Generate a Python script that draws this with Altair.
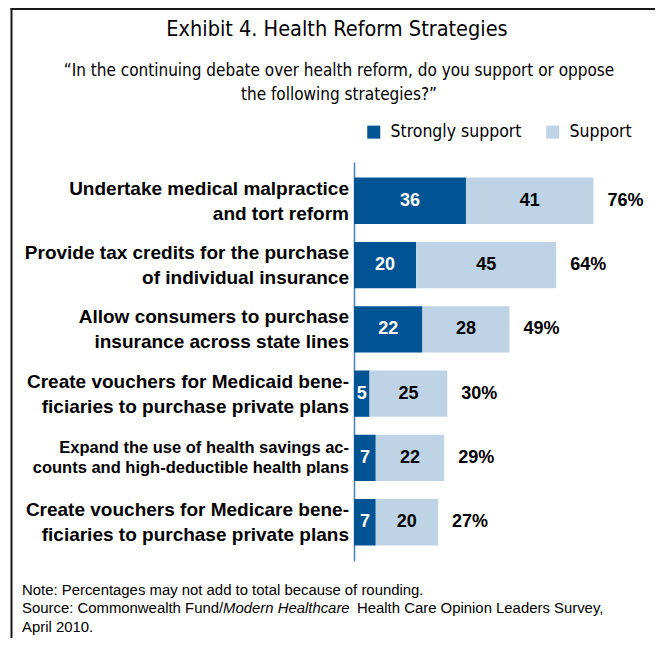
import altair as alt
import pandas as pd

# ---------------- data ----------------
strategies = [
    "Undertake medical malpractice\nand tort reform",
    "Provide tax credits for the purchase\nof individual insurance",
    "Allow consumers to purchase\ninsurance across state lines",
    "Create vouchers for Medicaid bene-\nficiaries to purchase private plans",
    "Expand the use of health savings ac-\ncounts and high-deductible health plans",
    "Create vouchers for Medicare bene-\nficiaries to purchase private plans",
]
strongly = [36, 20, 22, 5, 7, 7]
support = [41, 45, 28, 25, 22, 20]
totals = [76, 64, 49, 30, 29, 27]
series = ["Strongly support", "Support"]
colors = ["#005493", "#BED3E5"]

title_text = "Exhibit 4. Health Reform Strategies"
subtitle_text = "\u201cIn the continuing debate over health reform, do you support or oppose\nthe following strategies?\u201d"
note_line1 = "Note: Percentages may not add to total because of rounding."
source_a = "Source: Commonwealth Fund/"
source_b = "Modern Healthcare"
source_c = "Health Care Opinion Leaders Survey,"
note_line3 = "April 2010."

NARROW = "DejaVu Sans Condensed, Liberation Sans, sans-serif"
SANS = "Liberation Sans, Arial, sans-serif"

rows = []
for i, s in enumerate(strategies):
    rows.append({"strategy": s, "series": series[0], "value": strongly[i], "order": 0})
    rows.append({"strategy": s, "series": series[1], "value": support[i], "order": 1})
long = pd.DataFrame(rows)
wide = pd.DataFrame({"strategy": strategies, "strongly": strongly,
                     "support": support, "total": totals})
wide["end"] = wide["strongly"] + wide["support"]
wide["label"] = wide["total"].astype(str) + "%"
one = pd.DataFrame({"k": [0]})

W, H = 290, 399
x_scale = alt.Scale(domain=[0, 93.25], nice=False, zero=True)
y_enc = alt.Y("strategy:N", sort=strategies,
              scale=alt.Scale(paddingInner=0.28, paddingOuter=0.2425),
              axis=alt.Axis(labels=False, ticks=False, title=None, grid=False,
                            domainColor="#4A7EBB", domainWidth=1.5))

bars = alt.Chart(long).mark_bar().encode(
    y=y_enc,
    x=alt.X("value:Q", stack="zero", scale=x_scale, axis=None),
    color=alt.Color("series:N", scale=alt.Scale(domain=series, range=colors),
                    legend=alt.Legend(title=None, orient="none", legendX=11, legendY=-39,
                                      direction="horizontal", symbolType="square",
                                      symbolSize=169, symbolStrokeWidth=0,
                                      symbolOpacity=1, labelFont=NARROW,
                                      labelFontSize=17.5, labelColor="black",
                                      labelOffset=8, columnPadding=22, padding=0)),
    order=alt.Order("order:Q"),
)

seg_text = alt.Chart(long).transform_stack(
    stack="value", groupby=["strategy"], as_=["x0", "x1"],
    sort=[alt.SortField("order", order="ascending")]
).transform_calculate(mid="(datum.x0 + datum.x1) / 2").mark_text(
    font=SANS, fontSize=18, fontWeight="bold", baseline="middle", align="center"
).encode(
    y=alt.Y("strategy:N", sort=strategies),
    x=alt.X("mid:Q", scale=x_scale),
    text=alt.Text("value:Q"),
    color=alt.condition(alt.datum.series == "Strongly support",
                        alt.value("white"), alt.value("black")),
)

total_text = alt.Chart(wide).mark_text(
    font=SANS, fontSize=18, fontWeight="bold", baseline="middle", align="left", dx=14,
    color="black"
).encode(
    y=alt.Y("strategy:N", sort=strategies),
    x=alt.X("end:Q", scale=x_scale),
    text="label:N",
)

small_row = strategies[4]
cat_labels = alt.Chart(wide).transform_filter(
    alt.datum.strategy != small_row
).mark_text(
    font=SANS, fontSize=19, fontWeight="bold", align="right", baseline="middle",
    lineBreak="\n", lineHeight=25, dy=-12, color="black"
).encode(
    y=alt.Y("strategy:N", sort=strategies),
    x=alt.value(-5),
    text="strategy:N",
)
cat_labels_small = alt.Chart(wide).transform_filter(
    alt.datum.strategy == small_row
).mark_text(
    font=SANS, fontSize=16.5, fontWeight="bold", align="right", baseline="middle",
    lineBreak="\n", lineHeight=20, dy=-10, color="black"
).encode(
    y=alt.Y("strategy:N", sort=strategies),
    x=alt.value(-5),
    text="strategy:N",
)

def txt(text, x, y, size, font=SANS, weight="normal", align="left", style="normal",
        lh=None):
    kw = dict(font=font, fontSize=size, fontWeight=weight, align=align,
              baseline="middle", color="black", fontStyle=style, lineBreak="\n")
    if lh is not None:
        kw["lineHeight"] = lh
    return alt.Chart(one).mark_text(**kw).encode(
        x=alt.value(x), y=alt.value(y), text=alt.value(text))

title = txt(title_text, -17, -132, 21.5, font=NARROW, align="center")
subtitle = txt(subtitle_text, -15, -91, 17, font=NARROW, align="center", lh=23.5)
NS = 14.9
n1 = txt(note_line1, -332, 429, NS)
n2a = txt(source_a, -332, 447, NS)
n2b = txt(source_b, -131, 447, NS, style="italic")
n2c = txt(source_c, 3, 447, NS)
n3 = txt(note_line3, -332, 466, NS)

frame_left = alt.Chart(one).mark_rule(color="#1a1a1a", strokeWidth=2).encode(
    x=alt.value(-342.5), y=alt.value(-154), y2=alt.value(480))
frame_top = alt.Chart(one).mark_rule(color="#1a1a1a", strokeWidth=2).encode(
    x=alt.value(-343.5), x2=alt.value(310), y=alt.value(-153))

chart = alt.layer(
    bars, seg_text, total_text, cat_labels, cat_labels_small,
    title, subtitle, n1, n2a, n2b, n2c, n3, frame_left, frame_top
).properties(
    width=W, height=H,
    autosize=alt.AutoSizeParams(type="none"),
    padding={"left": 346, "top": 154, "right": 11, "bottom": 77},
    background="white",
).configure_view(stroke=None)

chart.save("out.html", embed_options={"renderer": "svg", "actions": False})
